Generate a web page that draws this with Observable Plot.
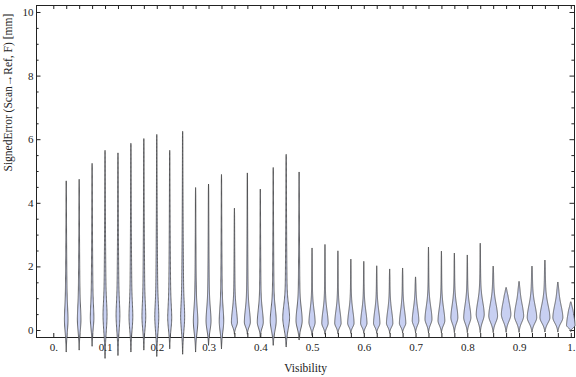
<!DOCTYPE html>
<html>
<head>
<meta charset="utf-8">
<script src="https://cdn.jsdelivr.net/npm/d3@7"></script>
<script src="https://cdn.jsdelivr.net/npm/@observablehq/plot@0.6"></script>
<style>
  html, body { margin: 0; padding: 0; background: #fff; }
  #chart svg { display: block; }
</style>
</head>
<body>
<div id="chart"></div>
<script>
// ---- data ----
const visibility = [0.025, 0.05, 0.075, 0.1, 0.125, 0.15, 0.175, 0.2, 0.225, 0.25,
                    0.275, 0.3, 0.325, 0.35, 0.375, 0.4, 0.425, 0.45, 0.475, 0.5,
                    0.525, 0.55, 0.575, 0.6, 0.625, 0.65, 0.675, 0.7, 0.725, 0.75,
                    0.775, 0.8, 0.825, 0.85, 0.875, 0.9, 0.925, 0.95, 0.975, 1.0];
// largest signed error of each group (top of violin)
const errMax = [4.69, 4.74, 5.24, 5.65, 5.57, 5.91, 6.02, 6.15, 5.65, 6.29,
                4.48, 4.59, 4.89, 3.83, 4.94, 4.43, 5.11, 5.56, 4.97, 2.58,
                2.69, 2.49, 2.23, 2.16, 2.02, 1.92, 1.95, 1.67, 2.61, 2.48,
                2.42, 2.36, 2.73, 2.01, 1.34, 1.53, 2.01, 2.20, 1.51, 0.89];
// smallest signed error of each group (bottom of violin)
const errMin = [-0.68, -0.62, -0.50, -0.88, -0.79, -0.68, -0.62, -0.82, -0.58, -0.75,
                -0.68, -0.47, -0.58, -0.12, -0.12, -0.20, -0.47, -0.52, -0.30, -0.16,
                -0.12, -0.10, -0.09, -0.09, -0.09, -0.09, -0.08, -0.08, -0.08, -0.08,
                -0.07, -0.07, -0.07, -0.07, -0.06, -0.06, -0.06, -0.05, -0.05, -0.04];
// most frequent error (widest part of violin)
const errMode = [0.35, 0.35, 0.40, 0.50, 0.50, 0.45, 0.45, 0.45, 0.40, 0.45,
                 0.30, 0.30, 0.30, 0.25, 0.25, 0.25, 0.30, 0.40, 0.30, 0.25,
                 0.22, 0.22, 0.22, 0.22, 0.22, 0.22, 0.22, 0.30, 0.35, 0.30,
                 0.40, 0.40, 0.50, 0.45, 0.50, 0.45, 0.40, 0.40, 0.40, 0.15];
// relative peak density of each group
const peakDensity = [0.36, 0.36, 0.36, 0.40, 0.38, 0.38, 0.38, 0.40, 0.40, 0.40,
                     0.45, 0.50, 0.45, 0.60, 0.60, 0.60, 0.60, 0.68, 0.62, 0.62,
                     0.64, 0.64, 0.64, 0.64, 0.64, 0.64, 0.64, 0.66, 0.70, 0.68,
                     0.70, 0.72, 0.80, 0.88, 0.95, 0.92, 0.95, 1.00, 1.00, 0.85];
// share of the density in the long upper tail
const tailShare = [0.65, 0.65, 0.65, 0.65, 0.65, 0.65, 0.65, 0.65, 0.65, 0.65,
                   0.50, 0.50, 0.50, 0.38, 0.38, 0.38, 0.38, 0.38, 0.38, 0.32,
                   0.32, 0.32, 0.32, 0.32, 0.32, 0.32, 0.32, 0.32, 0.32, 0.32,
                   0.32, 0.32, 0.32, 0.32, 0.32, 0.32, 0.32, 0.32, 0.32, 0.32];

const xTicks = [0, 0.1, 0.2, 0.3, 0.4, 0.5, 0.6, 0.7, 0.8, 0.9, 1];
const xTickLabels = ["0.", "0.1", "0.2", "0.3", "0.4", "0.5", "0.6", "0.7", "0.8", "0.9", "1."];
const yTicks = [0, 2, 4, 6, 8, 10];
const yTickLabels = ["0", "2", "4", "6", "8", "10"];
const xTitle = "Visibility";
const yTitle = "SignedError (Scan\u2192Ref, F) [mm]";

// ---- violin outlines (density profile per group) ----
const maxHalfWidth = 0.0097; // x units
const violins = [];
visibility.forEach((xc, i) => {
  const lo = errMin[i], hi = errMax[i], m = errMode[i];
  const a = tailShare[i], dens = peakDensity[i];
  const sdL = Math.max((m - lo) / 2.5, 0.06);
  const sdU = 0.38;
  const tau = Math.max(1.1, (hi - m) * 0.5);
  const n = 160;
  for (let j = 0; j <= n; j++) {
    const y = lo + (hi - lo) * j / n;
    let g;
    if (y < m) g = Math.exp(-0.5 * ((y - m) / sdL) ** 2);
    else g = (1 - a) * Math.exp(-0.5 * ((y - m) / sdU) ** 2) + a * Math.exp(-(y - m) / tau);
    g *= Math.sqrt(Math.min(1, (hi - y) / 0.25));
    g *= Math.sqrt(Math.min(1, (y - lo) / 0.08));
    const hw = g * dens * maxHalfWidth;
    violins.push({g: i, y, x1: xc - hw, x2: xc + hw});
  }
});

const minorY = d3.range(0, 10.01, 0.5).filter(v => v % 2 !== 0);
const catTicks = [0, ...visibility];

const W = 576, H = 377;
const mL = 36, mR = 2, mT = 5, mB = 40;
const innerW = W - mL - mR, innerH = H - mT - mB;
const ink = "#222";
const font = "'Liberation Serif', 'Times New Roman', Times, serif";

const chart = Plot.plot({
  width: W, height: H,
  marginLeft: mL, marginRight: mR, marginTop: mT, marginBottom: mB,
  style: {fontFamily: font, fontSize: "11px", background: "#fff", color: ink},
  x: {domain: [-0.0334, 1.0062], label: null},
  y: {domain: [-0.22, 10.22], label: null},
  marks: [
    Plot.frame({stroke: ink, strokeWidth: 1}),
    // inward ticks
    Plot.tickX(catTicks, {x: d => d, insetTop: innerH - 4, stroke: ink}),
    Plot.tickX(catTicks, {x: d => d, insetBottom: innerH - 4, stroke: ink}),
    Plot.tickY(yTicks, {y: d => d, insetRight: innerW - 4.5, stroke: ink}),
    Plot.tickY(minorY, {y: d => d, insetRight: innerW - 2.6, stroke: ink}),
    Plot.tickY(yTicks, {y: d => d, insetLeft: innerW - 4.5, stroke: ink}),
    Plot.tickY(minorY, {y: d => d, insetLeft: innerW - 2.6, stroke: ink}),
    // violins
    Plot.areaX(violins, {
      y: "y", x1: "x1", x2: "x2", z: "g",
      fill: "#c8d0f2", stroke: "#3c3c3c", strokeWidth: 0.9, strokeOpacity: 0.85,
      curve: "linear"
    }),
    // tick labels
    Plot.axisX({ticks: xTicks, tickSize: 0, tickPadding: 6, fontSize: 11, fill: ink,
      tickFormat: d => xTickLabels[xTicks.indexOf(d)], label: null}),
    Plot.axisY({ticks: yTicks, tickSize: 0, tickPadding: 3, fontSize: 11, fill: ink,
      tickFormat: d => yTickLabels[yTicks.indexOf(d)], label: null}),
    // titles
    Plot.text([xTitle], {text: d => d, frameAnchor: "bottom", dy: 34, fontSize: 11.5, fill: ink}),
    Plot.text([yTitle], {text: d => d, frameAnchor: "left", dx: -28, rotate: -90, fontSize: 11.5, fill: ink})
  ]
});
document.getElementById("chart").appendChild(chart);
</script>
</body>
</html>
